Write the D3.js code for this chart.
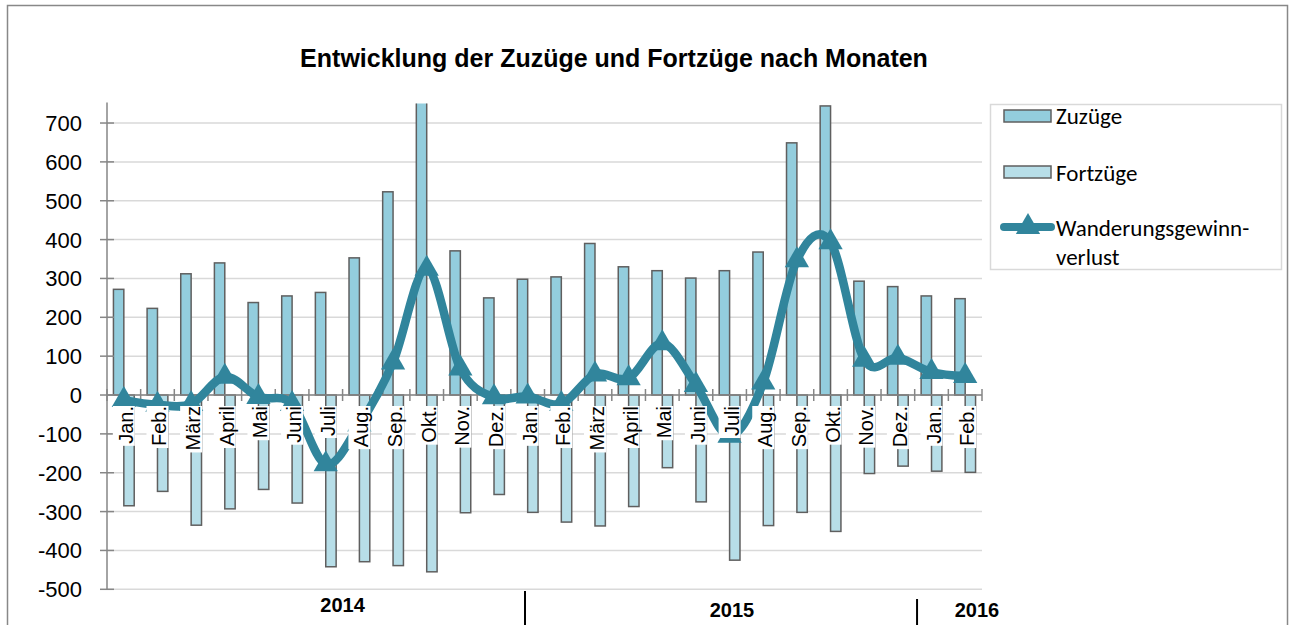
<!DOCTYPE html>
<html lang="de">
<head>
    <meta charset="utf-8">
    <script src="https://d3js.org/d3.v7.min.js"></script>
    <style>
        body { margin: 0; background: #fff; }
        svg { display: block; }
    </style>
</head>
<body>
    <svg></svg>
    <script>
        // Monate Jan. 2014 bis Feb. 2016
        const months = ['Jan.', 'Feb.', 'März', 'April', 'Mai', 'Juni', 'Juli', 'Aug.', 'Sep.', 'Okt.', 'Nov.', 'Dez.',
                        'Jan.', 'Feb.', 'März', 'April', 'Mai', 'Juni', 'Juli', 'Aug.', 'Sep.', 'Okt.', 'Nov.', 'Dez.',
                        'Jan.', 'Feb.']
        const years = ['2014', '2015', '2016']
        const zuzuege = [272, 223, 312, 340, 238, 255, 264, 353, 523, 780, 371, 250,
                         298, 304, 390, 330, 320, 301, 320, 368, 649, 744, 293, 279,
                         255, 248]
        const fortzuege = [-285, -248, -335, -293, -243, -278, -442, -429, -439, -455, -303, -256,
                           -302, -327, -337, -287, -187, -275, -425, -336, -302, -351, -202, -183,
                           -196, -199]
        const saldo = [-13, -25, -23, 47, -5, -23, -178, -76, 84, 325, 68, -6,
                       -4, -23, 53, 43, 133, 26, -105, 32, 347, 393, 91, 96,
                       59, 49]
        const yTicks = [-500, -400, -300, -200, -100, 0, 100, 200, 300, 400, 500, 600, 700]

        const W = 1289, H = 625
        const colZu = '#93cddd', colFort = '#b7dee8', colLine = '#31859c'
        const plotLeft = 107, plotRight = 982, plotTop = 103.6, plotBottom = 589.3

        const svg = d3.select('svg').attr('width', W).attr('height', H)

        svg.append('rect')
            .attr('x', 7.5).attr('y', 5.5).attr('width', 1280).attr('height', 660)
            .attr('fill', '#fff').attr('stroke', '#888').attr('stroke-width', 1.5)

        svg.append('text')
            .attr('x', 614).attr('y', 67)
            .attr('text-anchor', 'middle')
            .style('font', 'bold 25px "Liberation Sans", Arial, sans-serif')
            .text('Entwicklung der Zuzüge und Fortzüge nach Monaten')

        const idx = months.map((m, i) => i)
        const x = d3.scaleBand().domain(idx).range([plotLeft, plotRight]).padding(0)
        const xSub = d3.scaleBand().domain(['zu', 'fort']).range([0, x.bandwidth()]).paddingInner(0).paddingOuter(0.62)
        const y = d3.scaleLinear().domain([-500, 750]).range([plotBottom, plotTop])

        // Gitternetz
        svg.append('g')
            .selectAll('line')
            .data(yTicks)
            .enter()
            .append('line')
            .attr('x1', plotLeft).attr('x2', plotRight)
            .attr('y1', d => y(d)).attr('y2', d => y(d))
            .attr('stroke', '#d9d9d9').attr('stroke-width', 1.5)

        svg.append('clipPath').attr('id', 'plot')
            .append('rect').attr('x', plotLeft).attr('y', plotTop)
            .attr('width', plotRight - plotLeft).attr('height', plotBottom - plotTop)

        const bars = svg.append('g').attr('clip-path', 'url(#plot)')
        bars.selectAll('rect.zu')
            .data(zuzuege)
            .enter()
            .append('rect')
            .attr('class', 'zu')
            .attr('x', (d, i) => x(i) + xSub('zu'))
            .attr('width', xSub.bandwidth())
            .attr('y', d => y(d))
            .attr('height', d => y(0) - y(d))
            .attr('fill', colZu).attr('stroke', '#5f5f5f').attr('stroke-width', 1.5)
        bars.selectAll('rect.fort')
            .data(fortzuege)
            .enter()
            .append('rect')
            .attr('class', 'fort')
            .attr('x', (d, i) => x(i) + xSub('fort'))
            .attr('width', xSub.bandwidth())
            .attr('y', y(0))
            .attr('height', d => y(d) - y(0))
            .attr('fill', colFort).attr('stroke', '#5f5f5f').attr('stroke-width', 1.5)

        // Achsen
        const yAxis = svg.append('g').attr('transform', `translate(${plotLeft},0)`)
        yAxis.append('line').attr('x1', 0).attr('x2', 0).attr('y1', plotTop - 1).attr('y2', plotBottom)
            .attr('stroke', '#868686').attr('stroke-width', 1.5)
        yAxis.selectAll('line.t').data(yTicks).enter().append('line')
            .attr('x1', -7).attr('x2', 7).attr('y1', d => y(d)).attr('y2', d => y(d))
            .attr('stroke', '#868686').attr('stroke-width', 1.5)
        yAxis.selectAll('text').data(yTicks).enter().append('text')
            .attr('x', -25).attr('y', d => y(d) + 8)
            .attr('text-anchor', 'end')
            .style('font', '22px "Liberation Sans", Arial, sans-serif')
            .text(d => d)

        const xAxis = svg.append('g')
        xAxis.append('line').attr('x1', plotLeft).attr('x2', plotRight).attr('y1', y(0)).attr('y2', y(0))
            .attr('stroke', '#868686').attr('stroke-width', 1.5)
        xAxis.selectAll('line.t').data(d3.range(months.length + 1)).enter().append('line')
            .attr('x1', d => plotLeft + d * x.step()).attr('x2', d => plotLeft + d * x.step())
            .attr('y1', y(0) - 6).attr('y2', y(0) + 6)
            .attr('stroke', '#868686').attr('stroke-width', 1.5)

        // Saldo-Linie
        const cx = i => x(i) + x.bandwidth() / 2
        const line = d3.line()
            .x((d, i) => cx(i))
            .y(d => y(d))
            .curve(d3.curveCardinal.tension(0))
        svg.append('path')
            .datum(saldo)
            .attr('d', line)
            .attr('fill', 'none').attr('stroke', colLine).attr('stroke-width', 8.5)
            .attr('stroke-linejoin', 'round')
        const tri = d3.symbol().type(d3.symbolTriangle).size(255)
        svg.append('g')
            .selectAll('path')
            .data(saldo)
            .enter()
            .append('path')
            .attr('d', tri)
            .attr('transform', (d, i) => `translate(${cx(i)},${y(d)})`)
            .attr('fill', colLine)

        // Monatsbeschriftung mit weißem Hintergrund
        const labels = svg.append('g')
            .selectAll('g')
            .data(months)
            .enter()
            .append('g')
            .attr('transform', (d, i) => `translate(${cx(i) + 9},406) rotate(-90)`)
        labels.append('text')
            .attr('x', 0).attr('y', 0)
            .attr('text-anchor', 'end')
            .style('font', '20px "Liberation Sans", Arial, sans-serif')
            .text(d => d)
        labels.each(function () {
            const g = d3.select(this)
            const len = g.select('text').node().getComputedTextLength()
            g.insert('rect', 'text')
                .attr('x', -len - 2).attr('y', -20)
                .attr('width', len + 2).attr('height', 22)
                .attr('fill', '#fff')
        })

        // Jahresbeschriftung
        const yearPos = [7.0, 18.57, 25.85]
        const yearBase = [612, 617, 617]
        svg.append('g')
            .selectAll('text')
            .data(years)
            .enter()
            .append('text')
            .attr('x', (d, i) => plotLeft + yearPos[i] * x.step())
            .attr('y', (d, i) => yearBase[i])
            .attr('text-anchor', 'middle')
            .style('font', 'bold 20px "Liberation Sans", Arial, sans-serif')
            .text(d => d)
        const sepPos = [12.42, 24.07]
        const sepTop = [591, 599]
        svg.append('g')
            .selectAll('line')
            .data(sepPos)
            .enter()
            .append('line')
            .attr('x1', d => plotLeft + d * x.step()).attr('x2', d => plotLeft + d * x.step())
            .attr('y1', (d, i) => sepTop[i]).attr('y2', 625)
            .attr('stroke', '#000').attr('stroke-width', 2)

        // Legende
        const legend = svg.append('g')
        legend.append('rect')
            .attr('x', 990.5).attr('y', 104.5).attr('width', 291).attr('height', 165)
            .attr('fill', '#fff').attr('stroke', '#d9d9d9').attr('stroke-width', 1.5)
        const legendFont = '23px Carlito, Lato, "Open Sans", sans-serif'
        legend.append('rect').attr('x', 1004).attr('y', 110).attr('width', 47).attr('height', 12)
            .attr('fill', colZu).attr('stroke', '#5f5f5f').attr('stroke-width', 1.5)
        legend.append('text').attr('x', 1056).attr('y', 124).style('font', legendFont).text('Zuzüge')
        legend.append('rect').attr('x', 1004).attr('y', 166).attr('width', 47).attr('height', 12)
            .attr('fill', colFort).attr('stroke', '#5f5f5f').attr('stroke-width', 1.5)
        legend.append('text').attr('x', 1056).attr('y', 181).style('font', legendFont).text('Fortzüge')
        legend.append('line').attr('x1', 1004).attr('x2', 1051).attr('y1', 227).attr('y2', 227)
            .attr('stroke', colLine).attr('stroke-width', 8).attr('stroke-linecap', 'round')
        legend.append('path').attr('d', tri).attr('transform', 'translate(1028,227)').attr('fill', colLine)
        legend.append('text').attr('x', 1056).attr('y', 236).style('font', legendFont).text('Wanderungsgewinn-')
        legend.append('text').attr('x', 1056).attr('y', 265).style('font', legendFont).text('verlust')
    </script>
</body>
</html>
